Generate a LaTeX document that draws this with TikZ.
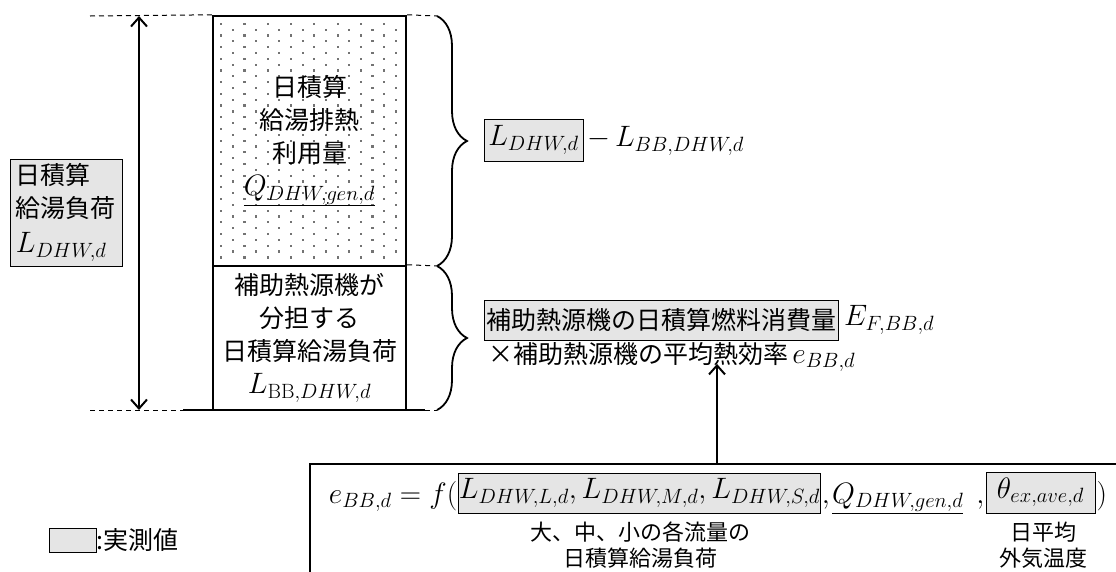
\RequirePackage{fix-cm}
\documentclass[tikz,border=0pt]{standalone}
\usepackage[no-math]{fontspec}
\setmainfont{Noto Sans CJK JP}
\usetikzlibrary{arrows.meta, positioning, decorations.pathreplacing}

\newcommand{\mth}[1]{{\fontsize{29.5}{34}\selectfont$#1$}}

\begin{document}
\begin{tikzpicture}[
    x=1pt, y=-1pt,
    stackbox/.style={rectangle, draw, line width=2.4pt, minimum width=193pt, inner sep=0pt, align=center, font=\fontsize{25}{33}\selectfont},
    measured/.style={rectangle, draw, fill=black!10, line width=1pt, inner sep=2pt, font=\fontsize{25}{33}\selectfont},
    plain/.style={inner sep=0pt, font=\fontsize{25}{33}\selectfont},
    note/.style={align=center, inner sep=0pt, font=\fontsize{22}{26}\selectfont},
    guide/.style={dash pattern=on 5pt off 4pt, line width=1pt},
    bracket/.style={decorate, decoration={brace, amplitude=30pt}, line width=1.8pt},
    arrow/.style={-{Straight Barb[length=9pt, width=16pt, line width=2pt]}, line width=2pt},
    twoway/.style={{Straight Barb[length=9pt, width=16pt, line width=2pt]}-{Straight Barb[length=9pt, width=16pt, line width=2pt]}, line width=2pt},
    dot/.style={fill=black!55}
]
\useasboundingbox (0,0) rectangle (1116,571);

% dotted fill of the recovered heat part
\foreach \j in {0,...,40}
  \foreach \i in {0,...,7}
    \fill[dot] ({220+23.3*\i+11.65*mod(\j,2)}, {22.7+5.84*\j}) rectangle ++(2.2,2.2);

% Stacked daily load
\node[stackbox, minimum height=250pt] (recovered) at (309.5,141) {日積算\\給湯排熱\\利用量\\\mth{\underline{Q_{DHW,gen,d}}}};
\node[stackbox, minimum height=144pt] (backup) at (309.5,338) {補助熱源機が\\分担する\\日積算給湯負荷\\\mth{L_{\mathrm{BB},DHW,d}}};

% Total load on the left
\node[measured, minimum width=112pt, minimum height=107pt, align=left] (dailyload) at (66,212.5) {日積算\\給湯負荷\\[2pt]\mth{L_{DHW,d}}};

\coordinate (loadtop) at (139,16);
\coordinate (loadbottom) at (139,410);
\draw[twoway] (loadtop) -- (loadbottom);

% Guide lines
\draw[guide] (90,16) -- (recovered.north west);
\draw[guide] (recovered.north east) -- (437,16);
\draw[guide] (backup.north east) -- (440,266);
\draw[guide] (90,410) -- (183,410);
\draw[guide] (425,410) -- (437,410);
\draw[line width=2.4pt] (183,410) -- (425,410);

% Braces
\draw[bracket] (437,16) -- (437,266);
\draw[bracket] (437,266) -- (437,410);

% Upper formula
\node[measured, minimum width=99pt, minimum height=42pt, inner sep=0pt] (totalload) at (533.5,140) {\mth{L_{DHW,d}}};
\node[plain, anchor=west] (heatdiff) at (587,141) {\mth{-\,L_{BB,DHW,d}}};

% Lower formula
\node[measured, anchor=west, minimum height=40pt] (fuel) at (484,320) {補助熱源機の日積算燃料消費量};
\node[plain, right=5pt of fuel] (fuelsym) {\mth{E_{F,BB,d}}};
\node[plain, anchor=west] (effline) at (488,357) {×補助熱源機の平均熱効率\,\mth{e_{BB,d}}};

% Efficiency function
\node[draw, line width=2.4pt, anchor=north west, minimum width=900pt, minimum height=200pt] (effbox) at (309,463) {};
\coordinate (effin) at (717,463);
\draw[arrow] (effin) -- (effin |- effline.south) -- ++(0,-8);

\node[measured, minimum width=361pt, minimum height=40pt, inner sep=0pt] (loads) at (639.5,493) {\mth{L_{DHW,L,d},L_{DHW,M,d},L_{DHW,S,d}}};
\node[plain, anchor=base east] (effeq) at ([xshift=-1pt]loads.west |- 0,503) {\mth{e_{BB,d}=f(}};
\node[plain, anchor=base west] (commaa) at ([xshift=1pt]loads.east |- 0,503) {\mth{,}};
\node[plain, anchor=base west] (gen) at (832,503) {\mth{\underline{Q_{DHW,gen,d}}}};
\node[measured, minimum width=109pt, minimum height=41pt, inner sep=0pt] (outdoor) at (1040.5,492.5) {\mth{\theta_{ex,ave,d}}};
\node[plain, anchor=base east] (commab) at ([xshift=-1pt]outdoor.west |- 0,503) {\mth{,}};
\node[plain, anchor=base west] (closing) at ([xshift=1pt]outdoor.east |- 0,503) {\mth{)}};

\node[note] (loadnote) at (640,545) {大、中、小の各流量の\\日積算給湯負荷};
\node[note] (tempnote) at (1043,545) {日平均\\外気温度};

% Legend
\node[measured, minimum width=47pt, minimum height=24pt] (legendbox) at (72.5,540) {};
\node[plain, anchor=west] (legendtext) at (legendbox.east) {:実測値};

\end{tikzpicture}
\end{document}
